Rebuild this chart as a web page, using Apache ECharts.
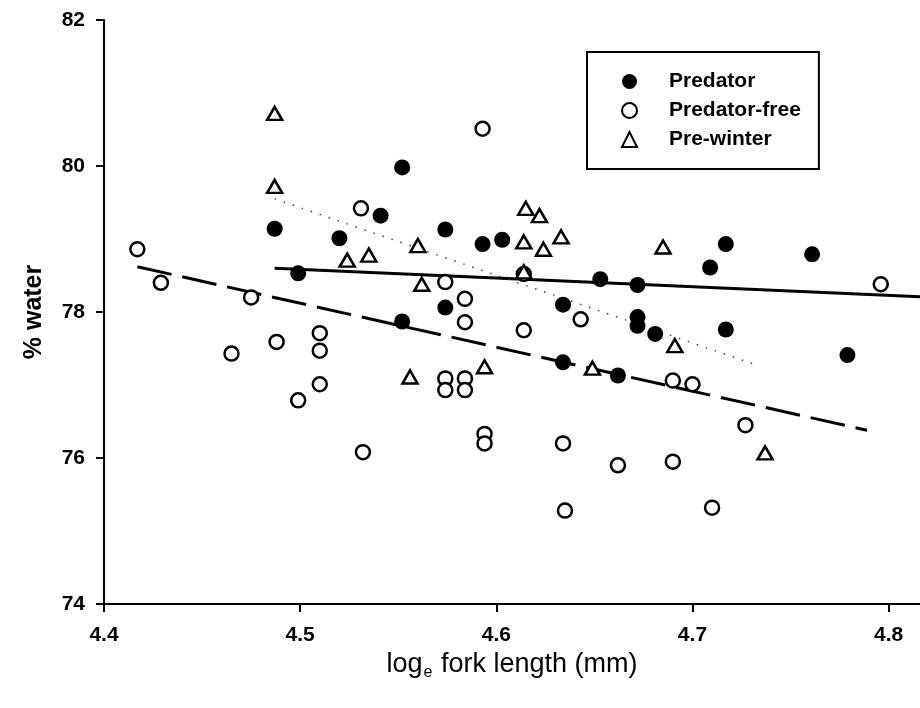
<!DOCTYPE html>
<html>
<head>
<meta charset="utf-8">
<script src="https://cdn.jsdelivr.net/npm/echarts@6/dist/echarts.min.js"></script>
<style>
html,body{margin:0;padding:0;background:#fff;}
#chart{width:920px;height:708px;}
</style>
</head>
<body>
<div id="chart"></div>
<script>
// Tick values
var xTicks = [4.4, 4.5, 4.6, 4.7, 4.8];
var yTicks = [74, 76, 78, 80, 82];

// Predator (filled circles): [log_e fork length, % water]
var predator = [
  [4.487, 79.14], [4.499, 78.53], [4.520, 79.01], [4.541, 79.32], [4.552, 79.98],
  [4.552, 77.87], [4.574, 79.13], [4.574, 78.06], [4.593, 78.93], [4.603, 78.99],
  [4.634, 78.10], [4.634, 77.31], [4.653, 78.45], [4.662, 77.13], [4.672, 78.37],
  [4.672, 77.93], [4.672, 77.81], [4.681, 77.70], [4.709, 78.61], [4.717, 78.93],
  [4.717, 77.76], [4.761, 78.79], [4.779, 77.41]
];

// Predator-free (open circles)
var predatorFree = [
  [4.417, 78.86], [4.429, 78.40], [4.465, 77.43], [4.475, 78.20], [4.488, 77.59],
  [4.499, 76.79], [4.510, 77.71], [4.510, 77.47], [4.510, 77.01], [4.531, 79.42],
  [4.532, 76.08], [4.574, 78.41], [4.574, 77.09], [4.574, 76.93], [4.584, 78.18],
  [4.584, 77.86], [4.584, 77.09], [4.584, 76.93], [4.593, 80.51], [4.594, 76.33],
  [4.594, 76.20], [4.614, 78.52], [4.614, 77.75], [4.634, 76.20], [4.635, 75.28],
  [4.643, 77.90], [4.662, 75.90], [4.690, 77.06], [4.700, 77.01], [4.690, 75.95],
  [4.710, 75.32], [4.727, 76.45], [4.796, 78.38]
];

// Pre-winter (open triangles)
var preWinter = [
  [4.487, 80.72], [4.487, 79.72], [4.524, 78.71], [4.535, 78.78], [4.556, 77.11],
  [4.560, 78.91], [4.562, 78.38], [4.594, 77.25], [4.614, 78.96], [4.614, 78.55],
  [4.615, 79.42], [4.622, 79.32], [4.624, 78.86], [4.633, 79.03], [4.649, 77.23],
  [4.685, 78.89], [4.691, 77.54], [4.737, 76.07]
];

// Regression lines (endpoints as drawn)
var predatorFit = [[4.487, 78.60], [4.816, 78.21]];
var predatorFreeFit = [[4.417, 78.62], [4.789, 76.38]];
var preWinterFit = [[4.487, 79.55], [4.733, 77.27]];

var chart = echarts.init(document.getElementById('chart'), null, {renderer: 'canvas'});

var axisFont = 'Liberation Sans, Arial, Helvetica, sans-serif';

var option = {
  backgroundColor: '#ffffff',
  animation: false,
  textStyle: {fontFamily: axisFont, color: '#000'},
  grid: {left: 104, right: 0, top: 20, bottom: 104, containLabel: false},
  legend: {
    orient: 'vertical',
    left: 587,
    top: 52,
    data: ['Predator', 'Predator-free', 'Pre-winter'],
    borderColor: '#000',
    borderWidth: 2,
    borderRadius: 0,
    padding: [19, 18, 19, 34],
    itemWidth: 15,
    itemHeight: 15,
    itemGap: 8,
    textStyle: {
      fontFamily: axisFont,
      fontSize: 21,
      fontWeight: 'bold',
      color: '#000',
      lineHeight: 21,
      padding: [0, 0, 0, 27]
    }
  },
  xAxis: {
    type: 'value',
    min: 4.4,
    max: 4.816,
    interval: 0.1,
    name: '{a|log}{b|e}{a| fork length (mm)}',
    nameLocation: 'middle',
    nameGap: 41,
    nameTextStyle: {
      rich: {
        a: {fontFamily: axisFont, fontSize: 27, color: '#000'},
        b: {fontFamily: axisFont, fontSize: 16, color: '#000', padding: [17, 1, 0, 1]}
      }
    },
    splitLine: {show: false},
    axisLine: {show: true, onZero: false, lineStyle: {color: '#000', width: 2}},
    axisTick: {show: true, length: 8, lineStyle: {color: '#000', width: 2}, customValues: xTicks},
    axisLabel: {
      customValues: xTicks,
      margin: 21,
      fontSize: 21,
      fontWeight: 'bold',
      color: '#000',
      fontFamily: axisFont,
      formatter: function (v) { return v.toFixed(1); }
    }
  },
  yAxis: {
    type: 'value',
    min: 74,
    max: 82,
    interval: 2,
    name: '% water',
    nameLocation: 'middle',
    nameRotate: 90,
    nameGap: 57,
    nameTextStyle: {fontFamily: axisFont, fontSize: 25, fontWeight: 'bold', color: '#000'},
    splitLine: {show: false},
    axisLine: {show: true, onZero: false, lineStyle: {color: '#000', width: 2}},
    axisTick: {show: true, length: 8, lineStyle: {color: '#000', width: 2}, customValues: yTicks},
    axisLabel: {
      customValues: yTicks,
      margin: 19,
      fontSize: 21,
      fontWeight: 'bold',
      color: '#000',
      fontFamily: axisFont
    }
  },
  series: [
    {
      name: 'Predator fit', type: 'line', data: predatorFit, symbol: 'none',
      lineStyle: {color: '#000', width: 3, type: 'solid'}, silent: true, z: 1
    },
    {
      name: 'Predator-free fit', type: 'line', data: predatorFreeFit, symbol: 'none',
      lineStyle: {color: '#000', width: 3, type: [35, 11]}, silent: true, z: 1
    },
    {
      name: 'Pre-winter fit', type: 'line', data: preWinterFit, symbol: 'none',
      lineStyle: {color: '#444', width: 1.5, type: [1.5, 8]}, silent: true, z: 1
    },
    {
      name: 'Predator', type: 'scatter', data: predator, symbol: 'circle', symbolSize: 16,
      itemStyle: {color: '#000', opacity: 1}, z: 3
    },
    {
      name: 'Predator-free', type: 'scatter', data: predatorFree, symbol: 'circle', symbolSize: 14,
      itemStyle: {color: '#fff', borderColor: '#000', borderWidth: 2.5, opacity: 1}, z: 3
    },
    {
      name: 'Pre-winter', type: 'scatter', data: preWinter, symbol: 'triangle', symbolSize: [15, 13],
      itemStyle: {color: '#fff', borderColor: '#000', borderWidth: 2.5, opacity: 1}, z: 4
    }
  ]
};

chart.setOption(option);
</script>
</body>
</html>
